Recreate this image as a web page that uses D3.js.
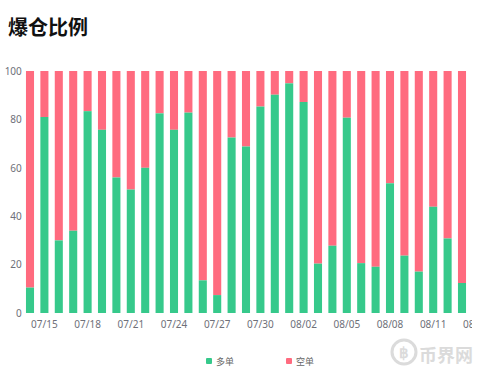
<!DOCTYPE html>
<html>
<head>
<meta charset="utf-8">
<script src="https://cdn.jsdelivr.net/npm/d3@7"></script>
<style>
  body { margin: 0; background: #fff; }
  svg { display: block; font-family: "Noto Sans CJK SC", "Noto Sans", sans-serif; }
</style>
</head>
<body>
<svg id="chart" width="482" height="374"></svg>
<script>
// dates (last one falls outside the visible crop)
const dates = ['07/14','07/15','07/16','07/17','07/18','07/19','07/20','07/21','07/22','07/23',
  '07/24','07/25','07/26','07/27','07/28','07/29','07/30','07/31','08/01','08/02',
  '08/03','08/04','08/05','08/06','08/07','08/08','08/09','08/10','08/11','08/12',
  '08/13','08/14'];
// long liquidation share (%), short = 100 - long
const longPct = [10.5, 81, 30, 34, 83.4, 75.7, 56, 51, 60, 82.5,
  75.7, 82.8, 13.5, 7.4, 72.5, 68.8, 85.3, 90.2, 94.9, 87.2,
  20.4, 27.8, 80.7, 20.6, 19.1, 53.6, 23.7, 17.1, 43.9, 30.8,
  12.4];
const yTicks = [0, 20, 40, 60, 80, 100];
const seriesNames = ['多单', '空单'];
const colors = ['#36c98b', '#ff6b7f'];

const svg = d3.select('#chart');

// title
svg.append('text')
  .attr('x', 8).attr('y', 35)
  .attr('font-size', 20).attr('font-weight', 700)
  .attr('fill', '#111').text('爆仓比例');

const plotL = 22.8, plotT = 71, plotB = 313;
const x = d3.scaleBand().domain(dates).range([plotL, plotL + dates.length * 14.4]).paddingInner(0.44).paddingOuter(0.22);
const y = d3.scaleLinear().domain([0, 100]).range([plotB, plotT]);

// the source image is cropped on the right
svg.append('clipPath').attr('id', 'crop')
  .append('rect').attr('x', 0).attr('y', 0).attr('width', 472).attr('height', 374);

const g = svg.append('g').attr('clip-path', 'url(#crop)');

const rows = longPct.map((v, i) => ({ date: dates[i], long: v, short: 100 - v }));

// short (red) on top, long (green) at bottom
g.selectAll('.short').data(rows).join('rect')
  .attr('x', d => x(d.date)).attr('width', x.bandwidth())
  .attr('y', y(100)).attr('height', d => y(d.long) - y(100))
  .attr('fill', colors[1]);
g.selectAll('.long').data(rows).join('rect')
  .attr('x', d => x(d.date)).attr('width', x.bandwidth())
  .attr('y', d => y(d.long)).attr('height', d => y(0) - y(d.long))
  .attr('fill', colors[0]);

// y axis labels
const yAxis = svg.append('g')
  .attr('transform', `translate(${plotL},0)`)
  .call(d3.axisLeft(y).tickValues(yTicks).tickSize(0).tickPadding(1));
yAxis.select('.domain').remove();
yAxis.selectAll('text').attr('fill', '#6e7079').attr('font-size', 10)
  .attr('font-family', '"Noto Sans", sans-serif');

// x axis labels, every 3rd day
const xAxis = g.append('g')
  .attr('transform', `translate(0,${plotB})`)
  .call(d3.axisBottom(x).tickValues(dates.filter((d, i) => i % 3 === 1)).tickSize(0).tickPadding(8));
xAxis.select('.domain').remove();
xAxis.selectAll('text').attr('fill', '#6e7079').attr('font-size', 10)
  .attr('font-family', '"Noto Sans", sans-serif');

// legend
const leg = svg.append('g');
seriesNames.forEach((name, i) => {
  const lx = 206 + i * 80;
  leg.append('rect').attr('x', lx).attr('y', 358).attr('width', 6).attr('height', 6)
    .attr('rx', 1).attr('fill', colors[i]);
  leg.append('text').attr('x', lx + 10).attr('y', 365).attr('font-size', 9)
    .attr('fill', '#666').text(name);
});

// watermark
const wm = svg.append('g').attr('opacity', 0.35);
wm.append('circle').attr('cx', 404).attr('cy', 352).attr('r', 12)
  .attr('fill', 'none').attr('stroke', '#999').attr('stroke-width', 3);
wm.append('text').attr('x', 404).attr('y', 358).attr('text-anchor', 'middle')
  .attr('font-size', 15).attr('font-weight', 700).attr('fill', '#999').text('฿');
wm.append('text').attr('x', 419).attr('y', 362)
  .attr('font-size', 18).attr('font-weight', 700).attr('fill', '#999').text('币界网');
</script>
</body>
</html>
